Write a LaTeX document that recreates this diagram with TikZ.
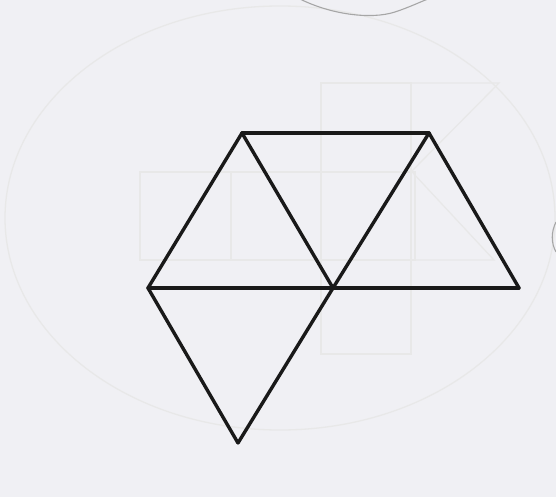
\documentclass[tikz,border=0pt]{standalone}
\begin{document}
\begin{tikzpicture}[x=1pt,y=-1pt,
  faint/.style={draw=black!9,line width=1.3pt},
  squiggle/.style={draw=black!35,line width=1.1pt},
  edge/.style={draw=black!90,line width=3.4pt,line cap=round,line join=round}]
\definecolor{paper}{RGB}{240,240,244}
\fill[paper] (0,0) rectangle (556,497);
\useasboundingbox (0,0) rectangle (556,497);
% faint show-through
\draw[faint] (280,218) ellipse [x radius=275, y radius=212];
\draw[faint] (140,172) rectangle (415,260);
\draw[faint] (231,172) -- (231,260);
\draw[faint] (321,83) rectangle (411,354);
\draw[faint] (411,83) -- (499,83) -- (411,172);
\draw[faint] (413,173) -- (494,260) -- (415,260);
\draw[squiggle] (300,-1) .. controls (330,14) and (370,20) .. (395,12) .. controls (410,7) and (420,2) .. (428,-1);
\draw[squiggle] (556,222) .. controls (551,232) and (551,243) .. (556,252);
% net vertices
\coordinate (A) at (242,133);
\coordinate (B) at (429,133);
\coordinate (C) at (148,288);
\coordinate (D) at (333,288);
\coordinate (E) at (519,288);
\coordinate (F) at (238,443);
% edges
\draw[edge] (A) -- (B);
\draw[edge] (A) -- (C);
\draw[edge] (A) -- (D);
\draw[edge] (B) -- (D);
\draw[edge] (B) -- (E);
\draw[edge] (C) -- (D);
\draw[edge] (D) -- (E);
\draw[edge] (C) -- (F);
\draw[edge] (D) -- (F);
\end{tikzpicture}
\end{document}
